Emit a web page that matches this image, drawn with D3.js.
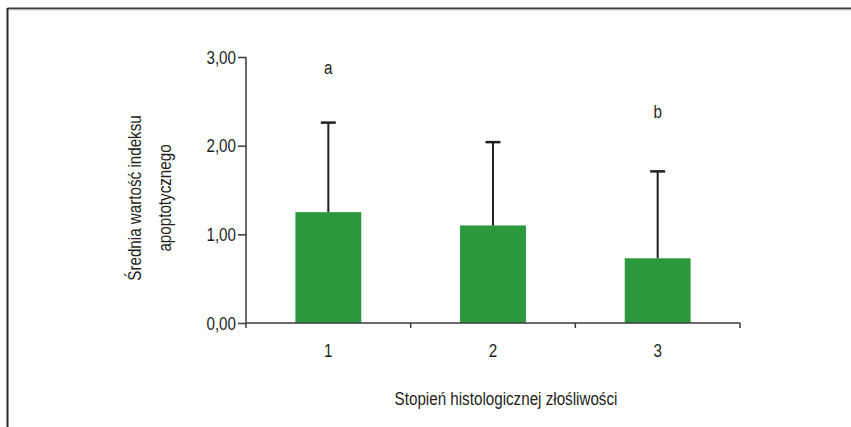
<!DOCTYPE html>
<html>
<head>
<meta charset="utf-8">
<script src="https://cdn.jsdelivr.net/npm/d3@7"></script>
<style>
  body { margin: 0; background: #fff; }
  svg text { font-family: "Liberation Sans", Arial, sans-serif; fill: #231f20; }
</style>
</head>
<body>
<svg id="chart" width="851" height="427"></svg>
<script>
// stopnie zlosliwosci, srednie i odchylenia
var grades = ["1", "2", "3"];
var means = [1.25, 1.10, 0.73];
var sds = [1.01, 0.94, 0.98];
var letters = ["a", "", "b"];
var letterY = [2.88, 0, 2.39];
var yTicks = [0, 1, 2, 3];

var K = 0.8; // waski krój - sciskamy tekst w poziomie
var FS = "19px";

var svg = d3.select("#chart");

// ramka (gora i lewa krawedz)
svg.append("line").attr("x1", 7.5).attr("x2", 851).attr("y1", 8.5).attr("y2", 8.5)
    .style("stroke", "#3a3a3a").style("stroke-width", 2);
svg.append("line").attr("x1", 8).attr("x2", 851).attr("y1", 10).attr("y2", 10)
    .style("stroke", "#cfcfcf").style("stroke-width", 1);
svg.append("line").attr("x1", 7.5).attr("x2", 7.5).attr("y1", 8).attr("y2", 427)
    .style("stroke", "#2a2a2a").style("stroke-width", 2);

var x = d3.scaleBand().domain(grades).range([246, 740]).padding(0);
var y = d3.scaleLinear().domain([0, 3]).range([323, 57]);
var barW = x.bandwidth() * 0.4;
var cx = function (i) { return x(grades[i]) + x.bandwidth()/2; };

var g = svg.append("g");

// slupki
g.selectAll("rect.bar").data(means).enter().append("rect")
    .attr("class", "bar")
    .attr("x", function (d, i) { return cx(i) - barW/2; })
    .attr("y", function (d) { return y(d); })
    .attr("width", barW)
    .attr("height", function (d) { return y(0) - y(d); })
    .style("fill", "#2b983d");

// odchylenia
g.selectAll("line.err").data(means).enter().append("line")
    .attr("class", "err")
    .attr("x1", function (d, i) { return cx(i); })
    .attr("x2", function (d, i) { return cx(i); })
    .attr("y1", function (d) { return y(d); })
    .attr("y2", function (d, i) { return y(d + sds[i]); })
    .style("stroke", "#231f20").style("stroke-width", 2);
g.selectAll("line.cap").data(means).enter().append("line")
    .attr("class", "cap")
    .attr("x1", function (d, i) { return cx(i) - 7.5; })
    .attr("x2", function (d, i) { return cx(i) + 7.5; })
    .attr("y1", function (d, i) { return y(d + sds[i]); })
    .attr("y2", function (d, i) { return y(d + sds[i]); })
    .style("stroke", "#231f20").style("stroke-width", 2.5);

// litery istotnosci
g.selectAll("text.sig").data(letters).enter().append("text")
    .attr("class", "sig")
    .attr("transform", function (d, i) { return "translate(" + cx(i) + "," + y(letterY[i]) + ") scale(" + K + ",1)"; })
    .attr("dy", "0.35em")
    .attr("text-anchor", "middle")
    .style("font-size", FS)
    .text(function (d) { return d; });

// os Y
var fmt = function (d) { return d3.format(".2f")(d).replace(".", ","); };
var yAxis = svg.append("g").attr("transform", "translate(246,0)")
    .call(d3.axisLeft(y).tickValues(yTicks).tickFormat(fmt).tickSize(8).tickPadding(2));
yAxis.select(".domain").attr("d", "M0," + y(3) + "V" + (y(0) + 5));
yAxis.selectAll(".tick text").attr("x", -10 / K).attr("transform", "scale(" + K + ",1)");

// os X
var xAxis = svg.append("g").attr("transform", "translate(0," + y(0) + ")")
    .call(d3.axisBottom(x).tickSize(0).tickPadding(21));
xAxis.select(".domain").attr("d", "M246,0H740");
xAxis.selectAll(".tick text").attr("transform", "scale(" + K + ",1)");
xAxis.selectAll(".tickmark").data(grades).enter().append("line")
    .attr("class", "tickmark")
    .attr("x1", function (d) { return x(d) + x.bandwidth(); })
    .attr("x2", function (d) { return x(d) + x.bandwidth(); })
    .attr("y1", 0).attr("y2", 5)
    .style("stroke", "#3a3a3a").style("stroke-width", 1.5);

svg.selectAll(".domain").style("stroke", "#3a3a3a").style("stroke-width", 1.5);
svg.selectAll(".tick line").style("stroke", "#3a3a3a").style("stroke-width", 1.5);
svg.selectAll(".tick text").style("font-size", FS).style("fill", "#231f20")
    .style("font-family", "'Liberation Sans', Arial, sans-serif");

// tytuly osi
svg.append("text")
    .attr("transform", "translate(506,405) scale(" + K + ",1)")
    .attr("text-anchor", "middle")
    .style("font-size", FS)
    .text("Stopień histologicznej złośliwości");

var yl = svg.append("text")
    .attr("transform", "translate(141,198) rotate(-90) scale(" + K + ",1)")
    .attr("text-anchor", "middle")
    .style("font-size", FS);
yl.append("tspan").attr("x", 0).attr("y", 0).text("Średnia wartość indeksu");
yl.append("tspan").attr("x", 0).attr("y", 30).text("apoptotycznego");
</script>
</body>
</html>
